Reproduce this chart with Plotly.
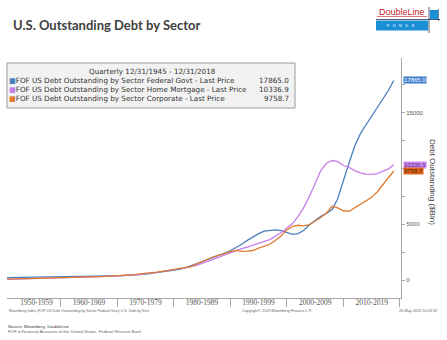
import plotly.graph_objects as go

# ---------------- data ----------------
YEARS = [1950.5] + list(range(1951, 2019)) + [2018.9]

FEDERAL = [222,
    225, 228, 232, 236, 240, 243, 247, 252, 256, 260,
    266, 272, 278, 284, 290, 300, 312, 325, 338, 355,
    385, 415, 440, 470, 530, 600, 670, 740, 800, 870,
    950, 1080, 1250, 1430, 1640, 1850, 2020, 2200, 2400, 2620,
    2880, 3200, 3550, 3880, 4150, 4380, 4460, 4480, 4420, 4250,
    4080, 4150, 4450, 4950, 5300, 5700, 5950, 6300, 7300, 9000,
    10500, 12000, 13100, 13900, 14700, 15500, 16200, 17010,
    17865.0]

MORTGAGE = [65,
    70, 80, 92, 105, 120, 135, 148, 160, 175, 190,
    205, 222, 240, 258, 275, 290, 305, 320, 335, 350,
    380, 420, 460, 500, 540, 600, 680, 780, 880, 960,
    1020, 1060, 1160, 1300, 1480, 1650, 1850, 2050, 2250, 2450,
    2650, 2800, 2950, 3100, 3270, 3450, 3620, 3900, 4250, 4650,
    5050, 5700, 6500, 7500, 8600, 9800, 10450, 10700, 10600, 10250,
    10080, 9800, 9600, 9470, 9460, 9530, 9750, 9950,
    10336.9]

CORPORATE = [75,
    80, 90, 100, 110, 120, 132, 145, 158, 170, 182,
    196, 210, 225, 240, 258, 280, 305, 330, 350, 370,
    400, 440, 490, 540, 580, 630, 700, 780, 860, 930,
    1010, 1090, 1200, 1420, 1650, 1900, 2080, 2230, 2400, 2550,
    2650, 2560, 2580, 2640, 2850, 3000, 3200, 3550, 3950, 4500,
    4800, 4900, 4850, 4950, 5250, 5600, 6000, 6600, 6450, 6200,
    6150, 6450, 6800, 7050, 7400, 7900, 8550, 9200,
    9758.7]

SERIES_NAMES = [
    "FOF US Debt Outstanding by Sector Federal Govt - Last Price",
    "FOF US Debt Outstanding by Sector Home Mortgage - Last Price",
    "FOF US Debt Outstanding by Sector Corporate - Last Price",
]
SERIES_VALUES = [FEDERAL, MORTGAGE, CORPORATE]
LINE_COLORS = ["#4a7fbd", "#c67ee8", "#e07b30"]
LABEL_BG = ["#3d7cc9", "#d08cf5", "#e0661a"]
LABEL_FG = ["#ffffff", "#5a1f86", "#4a1800"]

DECADE_STARTS = [1950, 1960, 1970, 1980, 1990, 2000, 2010, 2020]
DECADE_LABELS = ["1950-1959", "1960-1969", "1970-1979", "1980-1989",
                 "1990-1999", "2000-2009", "2010-2019"]
Y_TICKS = [0, 2500, 5000, 7500, 10000, 12500, 15000, 17500]
Y_TICK_TEXT = ["0", "", "5000", "", "", "", "15000", ""]

TITLE = "U.S. Outstanding Debt by Sector"
LEGEND_TITLE = "Quarterly 12/31/1945 - 12/31/2018"
Y_TITLE = "Debt Outstanding ($Bln)"

# ---------------- layout helpers ----------------
W, H = 447, 340
L, R, T, B = 7, 46, 58, 42
PW, PH = W - L - R, H - T - B


def PX(x):
    return (x - L) / PW


def PY(y):
    return (H - B - y) / PH


fig = go.Figure()
for name, vals, col in zip(SERIES_NAMES, SERIES_VALUES, LINE_COLORS):
    fig.add_trace(go.Scatter(x=YEARS, y=vals, mode="lines", name=name,
                             line=dict(color=col, width=1.3), showlegend=False,
                             hoverinfo="skip"))

mids = [(max(a, 1951.4) + b) / 2 for a, b in zip(DECADE_STARTS[:-1], DECADE_STARTS[1:])]

fig.update_layout(
    width=W, height=H,
    margin=dict(l=L, r=R, t=T, b=B),
    paper_bgcolor="white", plot_bgcolor="white",
    font=dict(family="Liberation Sans", size=7, color="#555555"),
    xaxis=dict(range=[1950.5, 2020.18], showgrid=False, zeroline=False,
               showline=True, linecolor="#a8a8a8", linewidth=1,
               tickvals=mids, ticktext=DECADE_LABELS, ticks="",
               tickfont=dict(family="Liberation Serif", size=7.5, color="#555555"),
               ticklabelstandoff=-3,
               minor=dict(tickvals=DECADE_STARTS, ticks="outside", ticklen=8,
                          tickcolor="#a8a8a8", tickwidth=1)),
    yaxis=dict(range=[-1611, 19875], side="right", showgrid=False, zeroline=False,
               showline=True, linecolor="#a8a8a8", linewidth=1,
               tickvals=Y_TICKS, ticktext=Y_TICK_TEXT, ticks="outside", ticklen=3,
               tickcolor="#a8a8a8", tickfont=dict(size=6, color="#555555")),
)

shapes = []
ann = []

# title
ann.append(dict(text="<b>" + TITLE + "</b>", x=PX(11), y=PY(25), xref="paper", yref="paper",
                xanchor="left", yanchor="middle", showarrow=False,
                font=dict(family="Lato", size=13, color="#404040")))

# legend box
LEG_FONT = dict(family="DejaVu Sans", size=7.2, color="#333333")
shapes.append(dict(type="rect", xref="paper", yref="paper",
                   x0=PX(7), x1=PX(295), y0=PY(63), y1=PY(108),
                   fillcolor="#f2f2f2", line=dict(color="#9a9a9a", width=1), layer="above"))
ann.append(dict(text=LEGEND_TITLE, x=PX(152), y=PY(71.8), xref="paper", yref="paper",
                xanchor="center", yanchor="middle", showarrow=False, borderpad=0,
                font=LEG_FONT))
for i, (name, vals, col) in enumerate(zip(SERIES_NAMES, SERIES_VALUES, LINE_COLORS)):
    yy = PY(80.8 + 9.0 * i)
    ann.append(dict(text="<span style='color:%s'>■</span>%s" % (col, name),
                    x=PX(7.5), y=yy, xref="paper", yref="paper", borderpad=0,
                    xanchor="left", yanchor="middle", showarrow=False,
                    font=LEG_FONT))
    ann.append(dict(text="%.1f" % vals[-1], x=PX(290), y=yy, xref="paper", yref="paper",
                    xanchor="right", yanchor="middle", showarrow=False, borderpad=0,
                    font=LEG_FONT))

# last value labels on right axis
for vals, bg, fg in zip(SERIES_VALUES, LABEL_BG, LABEL_FG):
    ann.append(dict(text="%.1f" % vals[-1], x=1, y=vals[-1], xref="paper", yref="y",
                    xanchor="left", yanchor="middle", xshift=2, showarrow=False,
                    bgcolor=bg, borderpad=0, font=dict(size=6, color=fg)))

# y title
ann.append(dict(text=Y_TITLE, x=PX(433), y=PY(182), xref="paper", yref="paper",
                textangle=90, xanchor="center", yanchor="middle", showarrow=False,
                font=dict(size=8, color="#404040")))

# tiny bloomberg footers
ann.append(dict(text="Bloomberg Index (FOF US Debt Outstanding by Sector Federal Govt) U.S. Debt by Sect",
                x=PX(7), y=PY(310.5), xref="paper", yref="paper", xanchor="left", yanchor="middle",
                showarrow=False, font=dict(size=3.6, color="#666666")))
ann.append(dict(text="Copyright© 2019 Bloomberg Finance L.P.", x=PX(240), y=PY(310.5),
                xref="paper", yref="paper", xanchor="left", yanchor="middle",
                showarrow=False, font=dict(size=3.8, color="#666666")))
ann.append(dict(text="26-May-2019 10:03:32", x=PX(397), y=PY(310.5),
                xref="paper", yref="paper", xanchor="left", yanchor="middle",
                showarrow=False, font=dict(size=3.8, color="#666666")))

# source
ann.append(dict(text="Source: Bloomberg, DoubleLine", x=PX(6), y=PY(326.5),
                xref="paper", yref="paper", xanchor="left", yanchor="middle",
                showarrow=False, font=dict(size=4.3, color="#333333")))
ann.append(dict(text="FOF = Financial Accounts of the United States, Federal Reserve Bank",
                x=PX(6), y=PY(331.7), xref="paper", yref="paper", xanchor="left",
                yanchor="middle", showarrow=False, font=dict(size=4.3, color="#666666")))

# logo
ann.append(dict(text="DoubleLine", x=PX(401.5), y=PY(12), xref="paper", yref="paper",
                xanchor="center", yanchor="middle", showarrow=False,
                font=dict(family="Liberation Sans", size=9, color="#c4222e")))
shapes.append(dict(type="line", xref="paper", yref="paper", x0=PX(377), x1=PX(427),
                   y0=PY(16.5), y1=PY(16.5), line=dict(color="#c4222e", width=0.6)))
shapes.append(dict(type="rect", xref="paper", yref="paper", x0=PX(376), x1=PX(428),
                   y0=PY(30.5), y1=PY(20.5), fillcolor="#1b8fd6", line=dict(width=0)))
shapes.append(dict(type="rect", xref="paper", yref="paper", x0=PX(430), x1=PX(438),
                   y0=PY(19), y1=PY(10), fillcolor="#1b8fd6", line=dict(width=0)))
shapes.append(dict(type="line", xref="paper", yref="paper", x0=PX(376), x1=PX(440),
                   y0=PY(19.5), y1=PY(19.5), line=dict(color="#1f3550", width=0.8)))
shapes.append(dict(type="line", xref="paper", yref="paper", x0=PX(429), x1=PX(429),
                   y0=PY(7), y1=PY(33), line=dict(color="#1f3550", width=0.8)))
shapes.append(dict(type="line", xref="paper", yref="paper", x0=PX(438.5), x1=PX(438.5),
                   y0=PY(9), y1=PY(21), line=dict(color="#1f3550", width=0.6)))
ann.append(dict(text="F   U   N   D   S", x=PX(400), y=PY(25.5), xref="paper", yref="paper",
                xanchor="center", yanchor="middle", showarrow=False,
                font=dict(family="Liberation Sans", size=4, color="#ffffff")))

fig.update_layout(shapes=shapes, annotations=ann)
fig.write_html("out.html")
